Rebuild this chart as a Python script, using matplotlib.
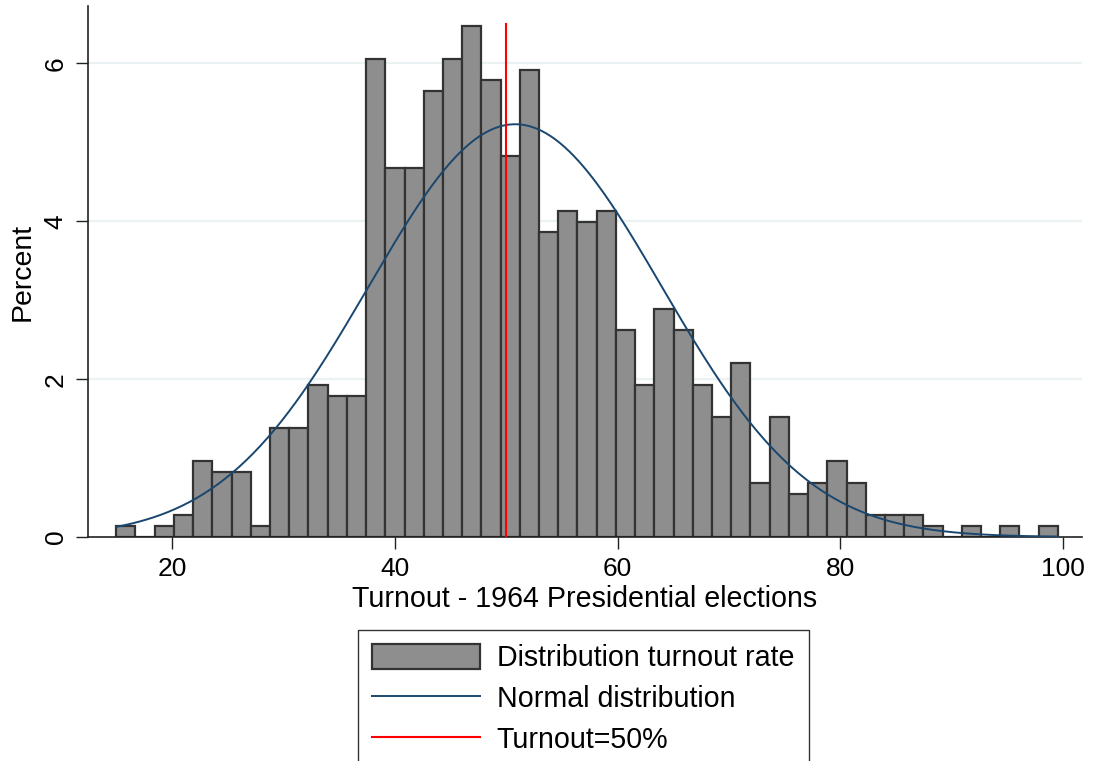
import numpy as np
import matplotlib
matplotlib.use("Agg")
import matplotlib.pyplot as plt
from matplotlib.patches import Patch
from matplotlib.lines import Line2D

plt.rcParams['font.family'] = ['Liberation Sans', 'DejaVu Sans']

# Turnout histogram, 49 bins between min and max turnout (percent of counties)
turnout_min = 14.97
turnout_max = 99.55
pct = [0.14, 0.00, 0.14, 0.28, 0.96, 0.83, 0.83, 0.14, 1.38, 1.38,
       1.93, 1.79, 1.79, 6.06, 4.68, 4.68, 5.65, 6.06, 6.47, 5.79,
       4.82, 5.92, 3.86, 4.13, 3.99, 4.13, 2.62, 1.93, 2.89, 2.62,
       1.93, 1.52, 2.20, 0.69, 1.52, 0.55, 0.69, 0.96, 0.69, 0.28,
       0.28, 0.28, 0.14, 0.00, 0.14, 0.00, 0.14, 0.00, 0.14]

# normal overlay parameters (mean and sd of turnout)
turnout_mean = 50.8
turnout_sd = 13.17
threshold = 50
threshold_top = 6.5

x_ticks = [20, 40, 60, 80, 100]
y_ticks = [0, 2, 4, 6]

edges = np.linspace(turnout_min, turnout_max, len(pct) + 1)
width = edges[1] - edges[0]

fig = plt.figure(figsize=(10.93, 7.61), dpi=100)
ax = fig.add_axes([0.0805, 0.2943, 0.9094, 0.6978])

ax.bar(edges[:-1], pct, width=width, align='edge', color='#8e8e8e',
       edgecolor='#333333', linewidth=1.6, zorder=2)

xs = np.linspace(turnout_min, turnout_max, 400)
dens = np.exp(-0.5 * ((xs - turnout_mean) / turnout_sd) ** 2) / (turnout_sd * np.sqrt(2 * np.pi))
ax.plot(xs, dens * width * 100, color='#1a476f', linewidth=1.4, zorder=3)

ax.plot([threshold, threshold], [0, threshold_top], color='#ff0000', linewidth=1.5, zorder=4)

ax.set_xlim(12.43, 101.71)
ax.set_ylim(0, 6.726)
ax.set_xticks(x_ticks)
ax.set_yticks(y_ticks)
ax.set_yticklabels([str(v) for v in y_ticks], rotation=90, va='center')
ax.tick_params(labelsize=19, length=8.5, width=1.0, color='#222222', pad=6)

for v in y_ticks[1:]:
    ax.axhline(v, color='#eaf2f3', linewidth=1.6, zorder=1)

for side in ['top', 'right']:
    ax.spines[side].set_visible(False)
for side in ['left', 'bottom']:
    ax.spines[side].set_linewidth(1.2)
    ax.spines[side].set_color('#222222')

ax.set_xlabel('Turnout - 1964 Presidential elections', fontsize=20.6, labelpad=3)
ax.set_ylabel('Percent', fontsize=20.5, labelpad=6)

handles = [Patch(facecolor='#8e8e8e', edgecolor='#333333', linewidth=1.6),
           Line2D([], [], color='#1a476f', linewidth=1.4),
           Line2D([], [], color='#ff0000', linewidth=1.5)]
labels = ['Distribution turnout rate', 'Normal distribution', 'Turnout=50%']
leg = fig.legend(handles, labels, loc='upper left', bbox_to_anchor=(358 / 1093, 1 - 630 / 761),
                 fontsize=20.6, frameon=True, fancybox=False, edgecolor='black',
                 handlelength=3.75, handleheight=0.95, handletextpad=0.6,
                 labelspacing=0.44, borderpad=0.5, borderaxespad=0)
leg.get_frame().set_linewidth(1.0)

fig.savefig('out.png', dpi=100)
